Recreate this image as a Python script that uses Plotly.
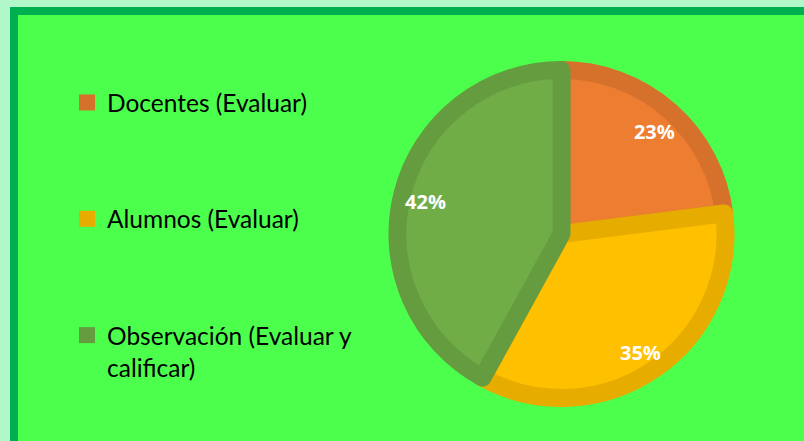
import plotly.graph_objects as go

# Data
labels = ["Docentes (Evaluar)", "Alumnos (Evaluar)", "Observación (Evaluar y<br>calificar)"]
values = [23, 35, 42]

fill_colors = ["#ED7D31", "#FFC000", "#70AD47"]
edge_colors = ["#D6712C", "#E6AD00", "#659C40"]

W, H = 804, 441
cx, cy = 561.5, 234.0      # pie centre in px (from top-left)
r_pie = 164                # radius of the filled pie (stroke adds 9 px outside)
r_lab = 180                # radius of the transparent label ring


def dom(r, dy=0.0):
    return dict(x=[(cx - r) / W, (cx + r) / W],
                y=[(H - cy - dy - r) / H, (H - cy - dy + r) / H])


fig = go.Figure()

# Main pie with a thick darker edge per slice
fig.add_trace(go.Pie(
    labels=labels, values=values, sort=False, direction="clockwise", rotation=0,
    marker=dict(colors=fill_colors, line=dict(color=edge_colors, width=18)),
    textinfo="none", hoverinfo="label+percent", showlegend=False,
    domain=dom(r_pie),
))

# Transparent ring carrying the percentage labels near the rim
fig.add_trace(go.Pie(
    labels=labels, values=values, sort=False, direction="clockwise", rotation=0,
    hole=0.56,
    marker=dict(colors=["rgba(0,0,0,0)"] * 3, line=dict(width=0)),
    textinfo="percent", texttemplate="%{percent:.0%}", textposition="inside",
    insidetextorientation="horizontal",
    insidetextfont=dict(family="Open Sans", size=20, color="white", weight="bold"),
    hoverinfo="skip", showlegend=False,
    domain=dom(r_lab, dy=2.5),
))

# Legend entries, one group each so they can be spaced apart
for i, (lab, col) in enumerate(zip(labels, edge_colors)):
    fig.add_trace(go.Scatter(
        x=[None], y=[None], mode="markers", name=lab,
        marker=dict(symbol="square", size=16, color=col, line=dict(width=0)),
        legendgroup=f"g{i}", showlegend=True,
    ))

fig.update_layout(
    width=W, height=H,
    margin=dict(l=0, r=0, t=0, b=0),
    paper_bgcolor="#B0F8CA",
    plot_bgcolor="rgba(0,0,0,0)",
    xaxis=dict(visible=False), yaxis=dict(visible=False),
    showlegend=True,
    legend=dict(
        x=67 / W, xanchor="left", y=1 - 80 / H, yanchor="top",
        bgcolor="rgba(0,0,0,0)", borderwidth=0,
        font=dict(family="Lato", size=24.5, color="black"),
        valign="top", tracegroupgap=81.5, itemclick=False,
    ),
    shapes=[dict(
        type="rect", xref="paper", yref="paper", layer="below",
        x0=14 / W, x1=1.05, y0=-0.05, y1=1 - 11 / H,
        fillcolor="#4CFF4C", line=dict(color="#00B050", width=8),
    )],
)

fig.write_html("out.html")
